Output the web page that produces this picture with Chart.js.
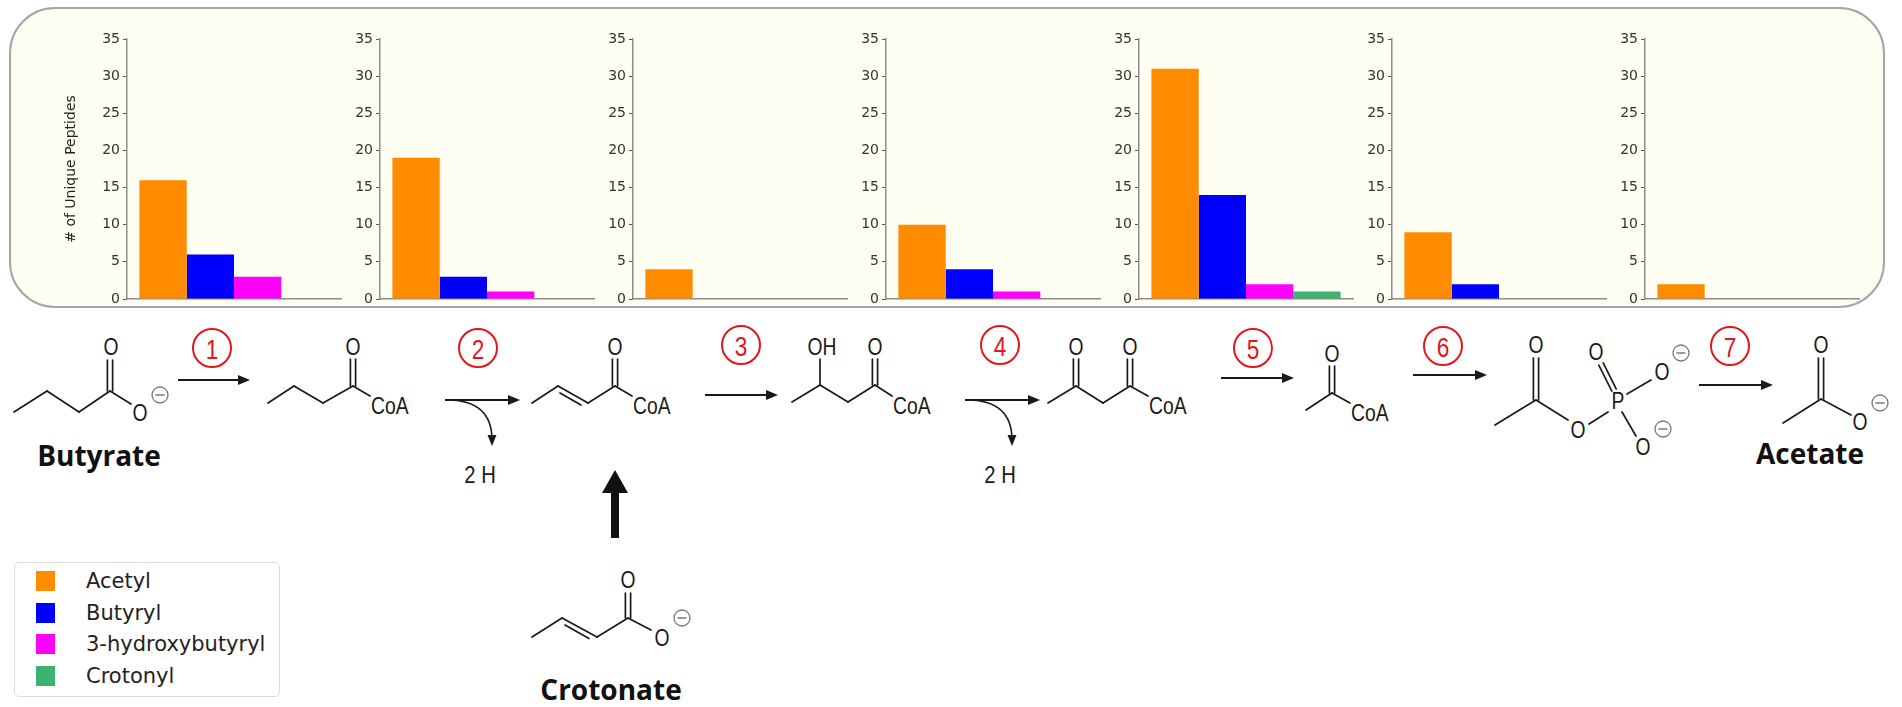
<!DOCTYPE html>
<html>
<head>
<meta charset="utf-8">
<script src="https://cdn.jsdelivr.net/npm/chart.js@4.4.1/dist/chart.umd.min.js"></script>
<style>
  html, body { margin: 0; padding: 0; background: #fff; }
  #page { position: relative; width: 1902px; height: 707px; overflow: hidden; font-family: 'DejaVu Sans', sans-serif; }
  #panel { position: absolute; left: 9px; top: 7px; width: 1876px; height: 301px; box-sizing: border-box;
           border: 2px solid #a5a5a5; border-radius: 46px; background: #fdfdf1; }
  canvas.mini { position: absolute; }
  #scheme { position: absolute; left: 0; top: 0; }
  #legend { position: absolute; left: 14px; top: 562px; width: 266px; height: 135px; box-sizing: border-box;
            background: #fff; border: 1px solid #dcdcdc; border-radius: 5px; }
  #legend .sw { position: absolute; left: 21px; width: 19px; height: 20px; }
  #legend .lb { position: absolute; left: 71px; font-size: 21px; color: #222; line-height: 24px; }
</style>
</head>
<body>
<div id="page">
  <div id="panel"></div>
  <svg id="scheme" width="1902" height="707"></svg>
  <div id="legend"></div>
</div>
<script>
// --- data ---
const steps = ['1', '2', '3', '4', '5', '6', '7'];
const seriesNames = ['Acetyl', 'Butyryl', '3-hydroxybutyryl', 'Crotonyl'];
const seriesColors = ['#ff8c00', '#0000ff', '#ff00ff', '#3cb371'];
const acetyl = [16, 19, 4, 10, 31, 9, 2];
const butyryl = [6, 3, 0, 4, 14, 2, 0];
const hydroxybutyryl = [3, 1, 0, 1, 2, 0, 0];
const crotonyl = [0, 0, 0, 0, 1, 0, 0];
const yTicks = [0, 5, 10, 15, 20, 25, 30, 35];
const yTitle = '# of Unique Peptides';

const allSeries = [acetyl, butyryl, hydroxybutyryl, crotonyl];

// layout of the small charts
const firstAxisX = 127, axisGap = 253, plotW = 214;
const plotTop = 39, plotBottom = 299;
const yBoxW = 68, pad = 12, padR = 4;

const page = document.getElementById('page');

steps.forEach((step, i) => {
    const cv = document.createElement('canvas');
    cv.className = 'mini';
    cv.width = yBoxW + plotW + padR;
    cv.height = plotBottom - plotTop + 2 * pad;
    cv.style.left = (firstAxisX + i * axisGap - yBoxW) + 'px';
    cv.style.top = (plotTop - pad) + 'px';
    page.appendChild(cv);

    const data = {
        labels: ['Step ' + step],
        datasets: seriesNames.map((name, k) => ({
            label: name,
            data: [allSeries[k][i]],
            backgroundColor: seriesColors[k],
            borderWidth: 0,
        }))
    };

    new Chart(cv.getContext('2d'), {
        type: 'bar',
        data: data,
        options: {
            responsive: false,
            animation: false,
            layout: { padding: { top: pad, bottom: pad, left: 0, right: padR } },
            datasets: { bar: { categoryPercentage: 0.884, barPercentage: 1 } },
            plugins: { legend: { display: false }, tooltip: { enabled: false } },
            scales: {
                x: {
                    offset: true,
                    ticks: { display: false },
                    grid: { display: false, drawTicks: false },
                    border: { display: true, color: '#8c8c8c', width: 1.5 },
                },
                y: {
                    min: yTicks[0],
                    max: yTicks[yTicks.length - 1],
                    ticks: {
                        stepSize: yTicks[1] - yTicks[0],
                        color: '#333',
                        padding: 3,
                        font: { family: 'DejaVu Sans', size: 14 },
                    },
                    grid: { drawOnChartArea: false, drawTicks: true, tickLength: 4, color: '#555', lineWidth: 1 },
                    border: { display: true, color: '#8c8c8c', width: 1.5 },
                    title: {
                        display: i === 0,
                        text: yTitle,
                        color: '#222',
                        padding: { top: 4, bottom: 4 },
                        font: { family: 'DejaVu Sans', size: 14 },
                    },
                    afterFit: (scale) => { scale.width = yBoxW; },
                },
            },
        },
    });
});

// legend box
const legend = document.getElementById('legend');
seriesNames.forEach((name, k) => {
    const cy = 18 + k * 31.7;
    legend.insertAdjacentHTML('beforeend',
        `<div class="sw" style="top:${cy - 10}px;background:${seriesColors[k]}"></div>` +
        `<div class="lb" style="top:${cy - 12}px">${name}</div>`);
});

// reaction scheme (drawing, not data)
let s = '';
const ink = '#1a1a1a';
function bond(x1, y1, x2, y2, w) {
    s += `<line x1="${x1}" y1="${y1}" x2="${x2}" y2="${y2}" stroke="${ink}" stroke-width="${w || 1.7}" stroke-linecap="round"/>`;
}
function vdbl(x, y1, y2) { bond(x - 2.6, y1, x - 2.6, y2); bond(x + 2.6, y1, x + 2.6, y2); }
function atom(x, y, t, anchor) {
    s += `<text transform="translate(${x} ${y}) scale(0.84 1)" text-anchor="${anchor || 'middle'}" dominant-baseline="central" ` +
         `font-family="Liberation Sans, Arial, sans-serif" font-size="23" fill="${ink}">${t}</text>`;
}
function minus(x, y) {
    s += `<circle cx="${x}" cy="${y}" r="8" fill="none" stroke="#777" stroke-width="1.3"/>`;
    s += `<line x1="${x - 4.5}" y1="${y}" x2="${x + 4.5}" y2="${y}" stroke="#777" stroke-width="1.5"/>`;
}
function arrow(x1, y, x2) {
    s += `<line x1="${x1}" y1="${y}" x2="${x2 - 4}" y2="${y}" stroke="${ink}" stroke-width="1.8"/>`;
    s += `<path d="M${x2 - 12},${y - 5} L${x2},${y} L${x2 - 12},${y + 5} z" fill="${ink}"/>`;
}
function bend(x1, y, x2, y2) {
    s += `<path d="M${x1},${y} Q${x2},${y} ${x2},${y2 - 6}" fill="none" stroke="${ink}" stroke-width="1.6"/>`;
    s += `<path d="M${x2 - 4.5},${y2 - 11} L${x2},${y2} L${x2 + 4.5},${y2 - 11} z" fill="${ink}"/>`;
}
function stepMark(x, y, n) {
    s += `<circle cx="${x}" cy="${y}" r="19" fill="none" stroke="#e3161b" stroke-width="2"/>`;
    s += `<text transform="translate(${x} ${y + 1}) scale(0.84 1)" text-anchor="middle" dominant-baseline="central" ` +
         `font-family="Liberation Sans, Arial, sans-serif" font-size="27" fill="#e3161b">${n}</text>`;
}
function name(x, y, t) {
    s += `<text x="${x}" y="${y}" text-anchor="middle" dominant-baseline="central" font-family="Open Sans, sans-serif" ` +
         `font-weight="bold" font-size="28" fill="#111">${t}</text>`;
}
function plain(x, y, t) {
    s += `<text transform="translate(${x} ${y}) scale(0.88 1)" text-anchor="middle" dominant-baseline="central" ` +
         `font-family="Liberation Sans, Arial, sans-serif" font-size="23" fill="${ink}">${t}</text>`;
}

// butyrate
bond(14, 412, 47, 391); bond(47, 391, 79, 412); bond(79, 412, 110, 391);
vdbl(110, 391, 360); atom(111, 347, 'O');
bond(110, 391, 131, 404); atom(140, 413, 'O'); minus(160, 395);
name(99, 455, 'Butyrate');

// butyryl-CoA
bond(268, 403, 294, 386); bond(294, 386, 323, 403); bond(323, 403, 353, 386);
vdbl(353, 386, 359); atom(353, 347, 'O');
bond(353, 386, 370, 396); atom(371, 406, 'CoA', 'start');

// crotonyl-CoA
bond(532, 403, 558, 386); bond(558, 386, 588, 403); bond(560, 393, 581, 405); bond(588, 403, 615, 386);
vdbl(615, 386, 359); atom(615, 347, 'O');
bond(615, 386, 632, 396); atom(633, 406, 'CoA', 'start');

// 3-hydroxybutyryl-CoA
bond(792, 402, 820, 385); bond(820, 385, 848, 402); bond(848, 402, 875, 385);
bond(820, 385, 820, 359); atom(822, 347, 'OH');
vdbl(875, 385, 359); atom(875, 347, 'O');
bond(875, 385, 892, 396); atom(893, 406, 'CoA', 'start');

// acetoacetyl-CoA
bond(1048, 403, 1076, 386); bond(1076, 386, 1103, 403); bond(1103, 403, 1130, 386);
vdbl(1076, 386, 359); atom(1076, 347, 'O');
vdbl(1130, 386, 359); atom(1130, 347, 'O');
bond(1130, 386, 1148, 396); atom(1149, 406, 'CoA', 'start');

// acetyl-CoA
bond(1306, 410, 1332, 393); vdbl(1332, 393, 366); atom(1332, 354, 'O');
bond(1332, 393, 1350, 403); atom(1351, 413, 'CoA', 'start');

// acetyl phosphate
bond(1495, 425, 1536, 400); vdbl(1536, 400, 358); atom(1536, 345, 'O');
bond(1536, 400, 1568, 420); atom(1578, 430, 'O');
bond(1589, 424, 1608, 412); atom(1618, 401, 'P');
bond(1611.8, 391.1, 1598.8, 365.1); bond(1616.2, 388.9, 1603.2, 362.9); atom(1596, 352, 'O');
bond(1627, 394, 1651, 380); atom(1662, 372, 'O'); minus(1681, 353);
bond(1622, 412, 1636, 436); atom(1643, 447, 'O'); minus(1663, 429);

// acetate
bond(1783, 423, 1821, 399); vdbl(1821, 399, 358); atom(1821, 345, 'O');
bond(1821, 399, 1851, 415); atom(1860, 422, 'O'); minus(1880, 403);
name(1810, 453, 'Acetate');

// crotonate
bond(532, 637, 562, 618); bond(562, 618, 597, 637); bond(565, 625, 589, 638.5); bond(597, 637, 628, 618);
vdbl(628, 618, 593); atom(628, 580, 'O');
bond(628, 618, 651, 630); atom(662, 638, 'O'); minus(682, 618);
name(611, 689, 'Crotonate');
s += `<path d="M611,538 L611,493 L602,493 L615,470 L628,493 L619,493 L619,538 z" fill="#111"/>`;

// reaction arrows and step numbers
arrow(178, 380, 250); stepMark(212, 348, 1);
arrow(445, 400, 520); bend(447, 400, 492, 446); plain(480, 475, '2 H'); stepMark(478, 348, 2);
arrow(705, 395, 778); stepMark(741, 345, 3);
arrow(965, 400, 1040); bend(967, 400, 1012, 446); plain(1000, 475, '2 H'); stepMark(1000, 345, 4);
arrow(1221, 378, 1294); stepMark(1253, 348, 5);
arrow(1413, 375, 1487); stepMark(1443, 346, 6);
arrow(1699, 385, 1773); stepMark(1730, 346, 7);

document.getElementById('scheme').innerHTML = s;
</script>
</body>
</html>
